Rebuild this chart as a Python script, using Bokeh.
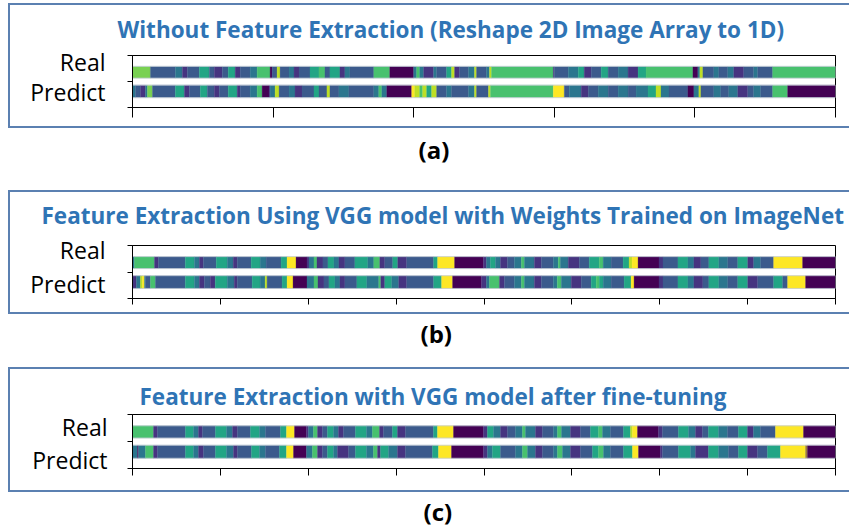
from bokeh.plotting import figure
from bokeh.models import (ColumnDataSource, FixedTicker, Range1d, CustomJSTickFormatter)
from bokeh.layouts import column
from bokeh.embed import file_html
from bokeh.resources import INLINE

# class index -> colour (viridis-like label colours)
CLASS_COLORS = ["#440154", "#463480", "#3b5a8c", "#2b768e", "#22a585",
                "#48c16e", "#79d152", "#bddf26", "#fde725", "#9a7b3c"]

TITLES = ["Without Feature Extraction (Reshape 2D Image Array to 1D)",
          "Feature Extraction Using VGG model with Weights Trained on ImageNet",
          "Feature Extraction with VGG model after fine-tuning"]
CAPTIONS = ["(a)", "(b)", "(c)"]
ROW_NAMES = ["Real", "Predict"]

# each row: (segment end position along the sample axis, class index)
A_REAL = [(18,6),(43,2),(50,3),(55,1),(67,2),(77,4),(82,2),(90,1),(96,2),(103,4),
          (108,1),(118,2),(125,3),(138,5),(140,0),(145,2),(148,7),(157,2),(162,3),(167,1),
          (178,2),(187,4),(193,5),(198,2),(208,4),(213,1),(218,3),(242,2),(258,5),(282,0),
          (285,3),(288,5),(292,3),(302,1),(305,3),(315,2),(320,4),(323,7),(328,1),(337,2),
          (343,3),(345,7),(355,2),(358,3),(360,7),(422,5),(423,1),(437,2),(447,3),(453,4),
          (460,1),(470,2),(477,4),(487,2),(497,3),(507,1),(515,4),(562,5),(567,0),(569,3),
          (572,7),(583,2),(588,3),(597,2),(603,3),(613,1),(623,2),(627,3),(642,2),(705,5)]
A_PRED = [(3,3),(8,2),(13,1),(15,3),(20,6),(43,2),(52,4),(57,1),(68,2),(75,4),
          (82,2),(87,1),(96,2),(105,4),(108,1),(118,2),(125,3),(130,5),(137,0),(138,1),
          (143,3),(147,7),(157,2),(163,3),(170,1),(182,2),(187,4),(195,2),(198,7),(207,2),
          (217,3),(242,2),(247,3),(250,5),(255,3),(280,0),(283,8),(288,7),(291,5),(295,7),
          (300,4),(305,7),(315,2),(320,3),(337,2),(343,3),(345,7),(357,2),(359,7),(422,5),
          (433,8),(438,2),(450,3),(457,1),(467,2),(477,3),(487,2),(497,3),(505,2),(517,3),
          (525,4),(530,7),(538,3),(557,2),(563,0),(568,3),(570,7),(583,2),(590,3),(598,2),
          (607,3),(617,1),(623,2),(630,3),(642,2),(657,5),(705,0)]
B_REAL = [(2,3),(22,5),(26,1),(53,2),(62,4),(67,3),(71,1),(84,2),(95,4),(101,3),
          (105,1),(119,2),(128,4),(134,3),(149,2),(155,4),(164,8),(175,0),(177,1),(182,3),
          (185,5),(191,1),(196,2),(202,4),(207,3),(213,1),(223,2),(236,4),(242,3),(248,5),
          (253,1),(261,2),(266,4),(275,1),(302,2),(306,4),(323,8),(352,0),(355,1),(359,3),
          (364,4),(369,3),(376,1),(383,2),(390,3),(393,5),(403,3),(410,1),(422,2),(427,3),
          (429,5),(437,3),(448,1),(458,2),(468,4),(472,5),(480,3),(492,2),(498,4),(501,7),
          (507,8),(528,0),(532,1),(547,2),(557,4),(563,3),(570,1),(578,2),(588,4),(597,3),
          (607,2),(617,4),(623,1),(630,3),(643,2),(672,8),(705,0)]
B_PRED = [(4,1),(8,3),(10,7),(12,8),(13,3),(18,2),(23,5),(53,2),(62,4),(67,3),
          (72,1),(78,2),(83,1),(95,4),(102,3),(105,1),(120,2),(128,4),(133,3),(135,7),
          (150,2),(155,4),(161,8),(175,0),(182,3),(186,5),(192,1),(197,2),(203,4),(208,3),
          (213,1),(225,2),(235,4),(247,3),(249,5),(253,1),(260,4),(267,3),(275,1),(302,2),
          (310,4),(321,8),(350,0),(355,1),(358,3),(368,5),(373,1),(383,2),(390,3),(393,5),
          (403,3),(410,1),(422,2),(426,3),(430,5),(440,3),(450,1),(460,2),(465,4),(468,5),
          (472,4),(480,3),(493,2),(500,4),(503,8),(528,0),(532,1),(547,2),(557,4),(563,3),
          (572,1),(578,2),(588,4),(597,3),(607,2),(617,4),(627,1),(643,2),(652,4),(657,2),
          (675,8),(705,0)]
C_REAL = [(23,5),(27,1),(55,2),(63,4),(68,3),(72,1),(85,2),(96,4),(102,3),(107,1),
          (120,2),(129,4),(135,3),(150,2),(156,4),(164,8),(176,0),(178,1),(183,3),(187,5),
          (192,1),(197,2),(203,4),(208,3),(213,1),(225,2),(236,4),(242,3),(249,5),(253,1),
          (262,2),(267,4),(275,1),(303,2),(307,4),(323,8),(353,0),(357,1),(363,4),(370,3),
          (377,1),(385,2),(392,3),(395,5),(405,3),(412,1),(423,2),(427,3),(431,5),(440,3),
          (450,1),(460,2),(468,4),(472,5),(480,3),(493,2),(500,4),(502,7),(507,8),(528,0),
          (532,1),(548,2),(558,4),(565,3),(572,1),(578,2),(588,4),(597,3),(608,2),(617,4),
          (623,1),(630,3),(645,2),(673,8),(705,0)]
C_PRED = [(7,3),(8,0),(15,3),(23,5),(27,1),(55,2),(63,4),(68,3),(73,1),(85,2),
          (96,4),(103,3),(107,1),(121,2),(129,4),(135,3),(149,2),(156,4),(163,8),(176,0),
          (182,3),(187,5),(192,1),(197,2),(203,4),(207,3),(218,1),(225,2),(236,4),(243,3),
          (247,5),(250,1),(258,4),(267,3),(275,1),(302,2),(308,4),(321,8),(353,0),(357,1),
          (362,3),(370,4),(385,2),(392,3),(397,5),(405,3),(412,1),(423,2),(427,3),(432,5),
          (440,3),(450,1),(462,2),(468,4),(473,5),(480,3),(493,2),(502,4),(508,8),(530,0),
          (532,1),(548,2),(560,4),(565,3),(578,1),(588,4),(598,3),(608,2),(617,4),(627,1),
          (637,2),(650,4),(675,8),(677,9),(705,0)]

X_END = 705
A_TICKS = [0, 141, 282, 423, 564, 705]
BC_TICKS = [0, 88.125, 176.25, 264.375, 352.5, 440.625, 528.75, 616.875, 705]
C_TICKS = [2, 89.875, 177.75, 265.625, 353.5, 441.375, 529.25, 617.125, 705]

TITLE_COLOR = "#2f74b5"
BORDER_COLOR = "#5b80b1"
FONT = "Open Sans"
W = 849

REAL_Y = (1.13, 1.58)
PRED_Y = (0.38, 0.86)


def box_css(top, bottom, left=8, w=2):
    c = BORDER_COLOR
    return (":host { box-shadow: "
            f"inset 0 {top}px 0 0 white, inset 0 -{bottom}px 0 0 white, "
            f"inset {left}px 0 0 0 white, "
            f"inset 0 {top + w}px 0 0 {c}, inset 0 -{bottom + w}px 0 0 {c}, "
            f"inset {left + w}px 0 0 0 {c}; }}")


def make_panel(idx, real, pred, x0, ticks, H, mb_left, mb_top, frame_h,
               title_offset, title_standoff, label_y, label_standoff, tick_out, box):
    p = figure(width=W, height=H, output_backend="svg", toolbar_location=None,
               x_range=Range1d(x0, X_END), y_range=Range1d(0, 2),
               min_border_left=mb_left, min_border_right=W - mb_left - (X_END - x0),
               min_border_top=mb_top, min_border_bottom=H - mb_top - frame_h,
               stylesheets=[box_css(*box)])
    p.grid.visible = False
    p.outline_line_color = "black"
    p.outline_line_width = 1
    p.background_fill_color = "white"
    p.border_fill_color = None
    p.border_fill_alpha = 0

    for row, (yb, yt) in ((real, REAL_Y), (pred, PRED_Y)):
        lefts, rights, cols = [], [], []
        start = x0
        for end, c in row:
            lefts.append(start)
            rights.append(end)
            cols.append(CLASS_COLORS[c])
            start = end
        src = ColumnDataSource(dict(left=lefts, right=rights, color=cols))
        p.quad(left="left", right="right", bottom=yb, top=yt, fill_color="color",
               line_color="color", line_width=0.3, source=src)
        p.quad(left=[x0], right=[X_END], bottom=[yb], top=[yt], fill_color=None,
               line_color="#c3ccd6", line_width=1, line_alpha=0.8)

    p.title.text = TITLES[idx]
    p.title.align = "left"
    p.title.offset = title_offset
    p.title.standoff = title_standoff
    p.title.text_font = FONT
    p.title.text_font_style = "bold"
    p.title.text_font_size = "22.5px"
    p.title.text_color = TITLE_COLOR

    p.xaxis.ticker = FixedTicker(ticks=ticks)
    p.xaxis.formatter = CustomJSTickFormatter(code="return ''")
    p.xaxis.major_label_text_font_size = "0px"
    p.xaxis.major_label_standoff = 0
    p.xaxis.major_tick_out = tick_out
    p.xaxis.major_tick_in = 0
    p.xaxis.minor_tick_line_color = None
    p.xaxis.axis_line_color = "black"
    p.xaxis.major_tick_line_color = "black"

    real_y, pred_y = label_y
    p.yaxis.ticker = FixedTicker(ticks=[pred_y, real_y], minor_ticks=[0, 1, 2])
    p.yaxis.formatter = CustomJSTickFormatter(
        args=dict(names=ROW_NAMES, split=(real_y + pred_y) / 2),
        code="return tick > split ? names[0] : names[1]")
    p.yaxis.major_label_text_font = FONT
    p.yaxis.major_label_text_font_size = "23px"
    p.yaxis.major_label_text_color = "black"
    p.yaxis.major_label_standoff = label_standoff
    p.yaxis.major_tick_out = 0
    p.yaxis.major_tick_in = 0
    p.yaxis.minor_tick_out = 5
    p.yaxis.minor_tick_in = 0
    p.yaxis.minor_tick_line_color = "black"
    p.yaxis.axis_line_color = "black"
    return p


def make_caption(idx, H, offset):
    c = figure(width=W, height=H, output_backend="svg", toolbar_location=None,
               x_axis_location=None, y_axis_location=None,
               min_border_left=0, min_border_right=0, min_border_top=0,
               min_border_bottom=0)
    c.grid.visible = False
    c.outline_line_color = None
    c.title.text = CAPTIONS[idx]
    c.title.align = "left"
    c.title.offset = offset
    c.title.standoff = 0
    c.title.text_font = FONT
    c.title.text_font_style = "bold"
    c.title.text_font_size = "24px"
    c.title.text_color = "black"
    return c


# page rows: A 0-130, (a) 130-178, B 178-314, (b) 314-361, C 361-492, (c) 492-529
pa = make_panel(0, A_REAL, A_PRED, 0, A_TICKS, 130, 130, 55, 52,
                -15, 22, (1.75, 0.58), 22, 10, (3, 2))
ca = make_caption(0, 48, 286)
pb = make_panel(1, B_REAL, B_PRED, 0, BC_TICKS, 136, 130, 67, 53,
                -91, 29, (1.83, 0.56), 22, 6, (12, 0))
cb = make_caption(1, 47, 288)
pc = make_panel(2, C_REAL, C_PRED, 2, C_TICKS, 131, 132, 53, 54,
                7, 5, (1.52, 0.30), 20, 7, (6, 0))
cc = make_caption(2, 37, 291)

layout = column(pa, ca, pb, cb, pc, cc, spacing=0)
open("out.html", "w").write(file_html(layout, INLINE))
